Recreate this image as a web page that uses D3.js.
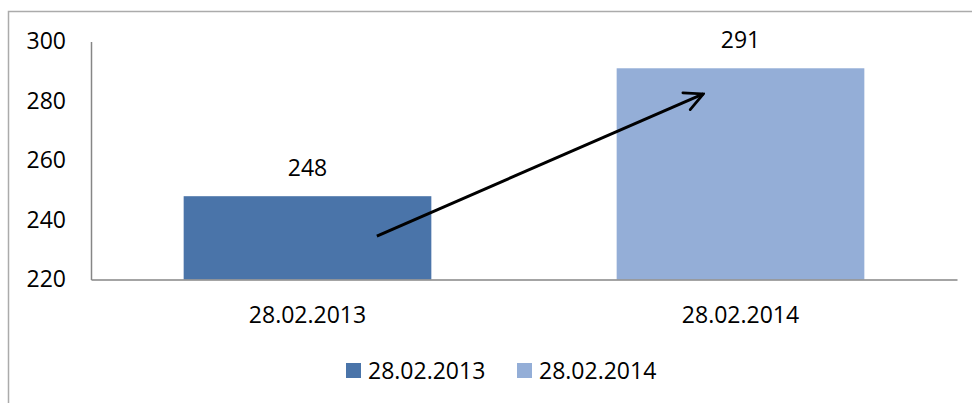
<!DOCTYPE html>
<html>
<head>
<meta charset="utf-8">
<script src="https://cdn.jsdelivr.net/npm/d3@7"></script>
<style>
  body { margin: 0; background: #fff; }
  svg text { font-family: "Open Sans", sans-serif; fill: #000; }
</style>
</head>
<body>
<script>
// chart values
const categories = ["28.02.2013", "28.02.2014"];
const values = [248, 291];
const colors = ["#4a74a9", "#94aed7"];
const yTicks = [220, 240, 260, 280, 300];

const width = 972;
const height = 403;

const svg = d3.select("body").append("svg")
  .attr("width", width)
  .attr("height", height);

// frame (top and left edges are visible)
svg.append("path")
  .attr("d", "M8.5,403 V11.5 H972")
  .attr("fill", "none")
  .attr("stroke", "#ababab")
  .attr("stroke-width", 1.5);

const x = d3.scaleBand()
  .domain(categories)
  .range([91, 957])
  .paddingInner(0.428)
  .paddingOuter(0.214);

const y = d3.scaleLinear()
  .domain([220, 300])
  .range([279.5, 41.5]);

// bars
svg.selectAll("rect.bar")
  .data(values)
  .enter().append("rect")
  .attr("class", "bar")
  .attr("x", (d, i) => x(categories[i]))
  .attr("y", d => y(d))
  .attr("width", x.bandwidth())
  .attr("height", d => y(220) - y(d))
  .attr("fill", (d, i) => colors[i]);

// value labels
svg.selectAll("text.val")
  .data(values)
  .enter().append("text")
  .attr("class", "val")
  .attr("x", (d, i) => x(categories[i]) + x.bandwidth() / 2)
  .attr("y", d => y(d) - 20)
  .attr("text-anchor", "middle")
  .style("font-size", "23px")
  .text(d => d);

// y axis
const yAxis = svg.append("g")
  .attr("transform", "translate(91,0)")
  .call(d3.axisLeft(y).tickValues(yTicks).tickSize(0).tickPadding(25));
yAxis.select(".domain").attr("stroke", "#868686").attr("stroke-width", 1.5);
yAxis.selectAll("text").style("font-size", "23px").attr("fill", "#000");

// x axis
const xAxis = svg.append("g")
  .attr("transform", "translate(0," + y(220) + ")")
  .call(d3.axisBottom(x).tickSize(0).tickPadding(27).tickSizeOuter(0));
xAxis.select(".domain").attr("stroke", "#868686").attr("stroke-width", 1.5);
xAxis.selectAll("text").style("font-size", "23px").attr("fill", "#000");

// arrow annotation
svg.append("defs").append("marker")
  .attr("id", "head")
  .attr("viewBox", "0 0 12 12")
  .attr("refX", 11)
  .attr("refY", 6)
  .attr("markerWidth", 22)
  .attr("markerHeight", 22)
  .attr("markerUnits", "userSpaceOnUse")
  .attr("orient", "auto")
  .append("path")
  .attr("d", "M1,1 L11,6 L1,11")
  .attr("fill", "none")
  .attr("stroke", "#000")
  .attr("stroke-width", 1.5)
  .attr("stroke-linecap", "round");

const arrowFrom = { cat: categories[0], frac: 0.78, v: 234.6 };
const arrowTo = { cat: categories[1], frac: 0.35, v: 282.4 };
svg.append("line")
  .attr("x1", x(arrowFrom.cat) + x.bandwidth() * arrowFrom.frac)
  .attr("y1", y(arrowFrom.v))
  .attr("x2", x(arrowTo.cat) + x.bandwidth() * arrowTo.frac)
  .attr("y2", y(arrowTo.v))
  .attr("stroke", "#000")
  .attr("stroke-width", 3)
  .attr("marker-end", "url(#head)");

// legend
const legend = svg.append("g").attr("transform", "translate(346,363)");
const legendX = [0, 171];
categories.forEach((c, i) => {
  const g = legend.append("g").attr("transform", "translate(" + legendX[i] + ",0)");
  g.append("rect").attr("width", 15).attr("height", 15).attr("fill", colors[i]);
  g.append("text")
    .attr("x", 22)
    .attr("y", 15.5)
    .style("font-size", "23px")
    .text(c);
});
</script>
</body>
</html>
